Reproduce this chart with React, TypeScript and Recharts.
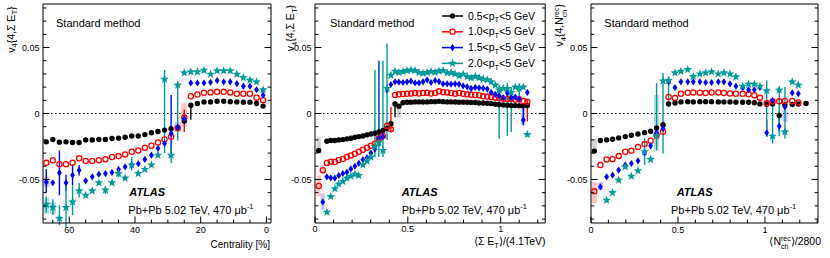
import React from "react";
import {
  ScatterChart,
  Scatter,
  XAxis,
  YAxis,
  ErrorBar,
  ReferenceLine,
  ReferenceArea,
} from "recharts";

const FONT = '"Liberation Sans", Arial, Helvetica, sans-serif';

// ── shared axis values ─────────────────────────────────────────
const yTicks = [-0.08, -0.07, -0.06, -0.05, -0.04, -0.03, -0.02, -0.01, 0, 0.01, 0.02, 0.03, 0.04, 0.05, 0.06, 0.07, 0.08];
const yMajor = [-0.05, 0, 0.05];
const ptLow = ["0.5", "1.0", "1.5", "2.0"];

// ── panel 1: centrality (%) ────────────────────────────────────
const centrality = [67, 65, 63, 61, 59, 57, 55, 53, 51, 49, 47, 45, 43, 41, 39, 37, 35, 33, 31, 29, 27, 25, 23, 21, 19, 17, 15, 13, 11, 9, 7, 5, 3, 1];
const p1Black = [-0.0215, -0.0197, -0.0217, -0.0215, -0.022, -0.022, -0.02, -0.02, -0.0197, -0.0197, -0.019, -0.0187, -0.018, -0.017, -0.017, -0.016, -0.0146, -0.0136, -0.0126, -0.0116, -0.0105, -0.0057, 0.0063, 0.0076, 0.0088, 0.0088, 0.0093, 0.0093, 0.009, 0.0088, 0.0086, 0.0086, 0.0076, 0.0056];
const p1Red = [-0.0374, -0.0354, -0.0384, -0.0384, -0.0374, -0.034, -0.036, -0.036, -0.0354, -0.0346, -0.033, -0.0323, -0.031, -0.029, -0.028, -0.026, -0.0245, -0.022, -0.0197, -0.0177, -0.011, -0.003, 0.0131, 0.0144, 0.0157, 0.016, 0.0164, 0.0164, 0.016, 0.015, 0.015, 0.015, 0.012, 0.0101];
const p1Blue = [-0.052, -0.0525, -0.045, -0.0525, -0.0467, -0.043, -0.051, -0.048, -0.046, -0.0455, -0.0447, -0.0424, -0.0404, -0.039, -0.038, -0.0348, -0.0316, -0.0265, -0.0227, -0.015, -0.0105, -0.004, 0.0232, 0.0232, 0.0232, 0.0237, 0.025, 0.024, 0.024, 0.0227, 0.0207, 0.0207, 0.018, 0.0139];
const p1Teal = [-0.069, -0.071, -0.0795, -0.0712, -0.067, -0.0586, -0.062, -0.0586, -0.0525, -0.058, -0.0525, -0.0455, -0.049, -0.039, -0.0455, -0.0424, -0.039, -0.0316, 0.026, -0.0316, 0.0215, 0.0308, 0.0316, 0.0316, 0.0328, 0.0298, 0.0323, 0.0323, 0.0323, 0.0298, 0.0273, 0.0253, 0.024, 0.018];
// errors keyed by point index: [down, up]
const p1BlackErr = { 22: [0.011, 0.0013] };
const p1RedErr = { 21: [0.011, 0.006] };
const p1BlueErr = { 0: [0.008, 0.01], 2: [0.017, 0.017], 3: [0.006, 0.006], 4: [0.008, 0.008], 5: [0.004, 0.004], 19: [0.014, 0.029] };
const p1TealErr = { 0: [0.006, 0.006], 1: [0.006, 0.006], 2: [0.005, 0.01], 3: [0.015, 0.02], 4: [0.01, 0.012], 5: [0.005, 0.006], 9: [0.003, 0.003], 11: [0.003, 0.004], 13: [0.004, 0.006], 18: [0.056, 0.007], 19: [0.006, 0.006], 20: [0.042, 0.002] };
// systematic boxes: [x, low, high]
const p1Boxes = [
  [],
  [[25, -0.01, 0.0076]],
  [[67, -0.0556, -0.048], [27, -0.014, -0.0064]],
  [[67, -0.076, -0.064], [65, -0.076, -0.067]],
];

// ── panel 2: <Sigma E_T>/(4.1 TeV) ─────────────────────────────
const sumEt = [0.02, 0.042, 0.064, 0.085, 0.107, 0.128, 0.15, 0.172, 0.193, 0.215, 0.236, 0.258, 0.28, 0.301, 0.323, 0.344, 0.366, 0.388, 0.409, 0.431, 0.452, 0.474, 0.496, 0.517, 0.539, 0.56, 0.582, 0.604, 0.625, 0.647, 0.668, 0.69, 0.712, 0.733, 0.755, 0.776, 0.798, 0.82, 0.841, 0.863, 0.884, 0.906, 0.928, 0.949, 0.971, 0.992, 1.014, 1.036, 1.057, 1.079, 1.1, 1.122, 1.144];
const p2Black = [-0.028, null, -0.021, -0.0205, -0.0205, -0.02, -0.0198, -0.0192, -0.0188, -0.018, -0.0175, -0.017, -0.0162, -0.0155, -0.015, -0.014, -0.0128, -0.0112, -0.0078, 0.0072, 0.0055, 0.0082, 0.0085, 0.0086, 0.0088, 0.0088, 0.0087, 0.0088, 0.009, 0.009, 0.0092, 0.009, 0.0088, 0.0088, 0.0087, 0.0086, 0.0086, 0.0085, 0.0084, 0.0083, 0.008, 0.008, 0.0078, 0.0075, 0.007, 0.0068, 0.0065, 0.0062, 0.006, 0.006, 0.0058, 0.0058, 0.006];
const p2Red = [-0.055, -0.043, -0.0375, -0.0365, -0.0368, -0.0352, -0.0345, -0.033, -0.0318, -0.0305, -0.029, -0.0275, -0.026, -0.0245, -0.023, -0.019, -0.017, -0.0095, -0.012, 0.014, 0.0145, 0.0148, 0.015, 0.0152, 0.0155, 0.0152, 0.0155, 0.0158, 0.0152, 0.0155, 0.0168, 0.0162, 0.016, 0.0155, 0.015, 0.0155, 0.015, 0.0145, 0.0142, 0.014, 0.0138, 0.013, 0.0128, 0.0125, 0.012, 0.0118, 0.0112, 0.011, 0.0112, 0.0105, 0.0108, 0.0095, 0.009];
const p2Blue = [null, -0.067, -0.048, -0.0488, -0.049, -0.047, -0.0455, -0.0445, -0.042, -0.04, -0.0378, -0.035, -0.0335, -0.03, -0.027, -0.019, -0.0175, 0.018, 0.022, 0.024, 0.0238, 0.0235, 0.024, 0.0245, 0.0232, 0.0232, 0.024, 0.0255, 0.0235, 0.025, 0.0242, 0.0225, 0.0225, 0.0222, 0.0225, 0.0222, 0.021, 0.0202, 0.019, 0.0198, 0.0195, 0.0192, 0.0185, 0.016, 0.0145, 0.0135, 0.012, 0.0155, 0.012, 0.0125, 0.011, -0.005, 0.016];
const p2Teal = [null, null, -0.0748, -0.063, -0.057, -0.0535, -0.0515, -0.049, -0.0475, -0.046, -0.047, -0.039, -0.036, -0.033, -0.025, -0.022, -0.028, 0.019, 0.029, 0.032, 0.031, 0.0318, 0.0325, 0.033, 0.0325, 0.031, 0.0305, 0.031, 0.0318, 0.0312, 0.0322, 0.0325, 0.0308, 0.031, 0.03, 0.0285, 0.0298, 0.028, 0.027, 0.0282, 0.027, 0.026, 0.0255, 0.024, 0.0215, 0.0178, 0.019, 0.019, 0.016, 0.02, 0.019, 0.02, -0.016];
const p2BlackErr = { 19: [0.01, 0.002] };
const p2RedErr = { 18: [0.002, 0.017], 52: [0.015, 0.002] };
const p2BlueErr = { 15: [0.006, 0.059], 51: [0.004, 0.012] };
const p2TealErr = { 14: [0.008, 0.058], 15: [0.011, 0.062], 16: [0.005, 0.068], 17: [0.039, 0.034], 45: [0.037, 0.004], 47: [0.036, 0.004], 48: [0.03, 0.004], 50: [0.012, 0.004] };
const p2Boxes = [
  [[0.02, -0.0295, -0.0177], [0.452, -0.003, 0.004]],
  [[0.02, -0.063, -0.047], [0.042, -0.0455, -0.039]],
  [[0.042, -0.073, -0.0606], [1.122, -0.009, 0.006]],
  [],
];

// ── panel 3: <N_ch^rec>/2800 ──────────────────────────────────
const nch = [0.019, 0.054, 0.09, 0.124, 0.159, 0.197, 0.232, 0.27, 0.308, 0.343, 0.377, 0.414, 0.446, 0.483, 0.517, 0.556, 0.588, 0.626, 0.659, 0.693, 0.732, 0.764, 0.799, 0.833, 0.872, 0.906, 0.939, 0.971, 1.01, 1.044, 1.082, 1.115, 1.157, 1.192, 1.236];
const p3Black = [-0.0285, -0.0205, -0.02, -0.0195, -0.0185, -0.0175, -0.0165, -0.0155, -0.0145, -0.0135, -0.011, -0.0085, 0.0072, 0.008, 0.0088, 0.009, 0.0088, 0.009, 0.009, 0.009, 0.0088, 0.0088, 0.0088, 0.0086, 0.0085, 0.0085, 0.0082, 0.0072, 0.007, 0.0072, -0.0015, 0.0065, 0.0068, 0.0072, 0.0076];
const p3Red = [-0.059, -0.039, -0.0348, -0.0346, -0.0323, -0.029, -0.0283, -0.0253, -0.0232, -0.0207, -0.0164, -0.0139, 0.0126, 0.0118, 0.015, 0.0157, 0.016, 0.0158, 0.0155, 0.016, 0.016, 0.0155, 0.0152, 0.015, 0.015, 0.0145, 0.0139, 0.012, 0.0078, 0.0092, 0.0092, 0.0095, 0.0095, 0.0083, null];
const p3Blue = [null, -0.0556, -0.048, -0.0467, -0.0429, -0.039, -0.0379, -0.0359, -0.0298, -0.0245, -0.0146, -0.0114, 0.024, 0.0197, 0.024, 0.024, 0.024, 0.024, 0.0235, 0.0235, 0.024, 0.024, 0.0225, 0.0207, 0.0195, 0.018, 0.018, 0.0197, -0.0146, 0.01, -0.0096, 0.005, 0.0157, 0.015, null];
const p3Teal = [null, null, -0.0657, -0.06, -0.0505, -0.0404, -0.0475, -0.0434, -0.029, -0.0348, -0.017, 0.0247, 0.025, 0.0308, 0.032, 0.0333, 0.028, 0.03, 0.0308, 0.0316, 0.03, 0.0308, 0.03, 0.0278, 0.0207, 0.0222, 0.0222, 0.0207, 0.0172, -0.0172, 0.0177, -0.0139, 0.024, 0.0215, null];
const p3BlackErr = { 30: [0.003, 0.003] };
const p3RedErr = {};
const p3BlueErr = { 28: [0.003, 0.01], 30: [0.004, 0.01] };
const p3TealErr = { 8: [0.01, 0.01], 10: [0.011, 0.04], 11: [0.055, 0.006], 12: [0.02, 0.003], 28: [0.035, 0.008], 29: [0.0055, 0.027], 30: [0.035, 0.003], 31: [0.005, 0.034] };
const p3Boxes = [
  [[0.019, -0.03, -0.019]],
  [[0.019, -0.068, -0.052]],
  [[0.054, -0.058, -0.052], [1.115, -0.0063, 0.0025]],
  [[0.377, -0.028, 0.014]],
];

// ── styling ───────────────────────────────────────────────────
const COLORS = ["#000000", "#ff0000", "#0000ff", "#009999"];
const BOX_COLORS = ["#b4b4b4", "#ff9c9c", "#a0a0ff", "#80caca"];
const Y_DOMAIN: [number, number] = [-0.083, 0.083];

function marker(i: number, cx: number, cy: number, legend = false) {
  if (cx == null || cy == null) return <g />;
  if (i === 0) return <circle cx={cx} cy={cy} r={2.7} fill="#000" />;
  if (i === 1)
    return <circle cx={cx} cy={cy} r={2.6} fill={legend ? "#fff" : "none"} stroke="#ff0000" strokeWidth={1.3} />;
  if (i === 2)
    return (
      <polygon
        points={`${cx},${cy - 3.6} ${cx + 2.4},${cy} ${cx},${cy + 3.6} ${cx - 2.4},${cy}`}
        fill="#0000ff"
      />
    );
  const pts: string[] = [];
  for (let k = 0; k < 10; k++) {
    const a = -Math.PI / 2 + (k * Math.PI) / 5;
    const r = k % 2 === 0 ? 4.6 : 1.9;
    pts.push(`${cx + r * Math.cos(a)},${cy + r * Math.sin(a)}`);
  }
  return <polygon points={pts.join(" ")} fill="#009999" />;
}

function points(xs: number[], ys: (number | null)[], errs: Record<number, number[]>) {
  const out: { x: number; y: number; err?: number[] }[] = [];
  xs.forEach((x, i) => {
    const y = ys[i];
    if (y == null) return;
    out.push(errs[i] ? { x, y, err: errs[i] } : { x, y });
  });
  return out;
}

const isMajor = (v: number, majors: number[]) => majors.some((m) => Math.abs(m - v) < 1e-9);

function LeftTick({ x, y, payload }: any) {
  const major = isMajor(payload.value, yMajor);
  return (
    <g>
      <line x1={x} x2={x + (major ? 6.5 : 3.3)} y1={y} y2={y} stroke="#000" />
      {major && (
        <text x={x - 3.5} y={y + 3.2} textAnchor="end" fontSize={9} fontFamily={FONT} fill="#000">
          {String(payload.value)}
        </text>
      )}
    </g>
  );
}

function RightTick({ x, y, payload }: any) {
  const major = isMajor(payload.value, yMajor);
  return <line x1={x} x2={x - (major ? 6.5 : 3.3)} y1={y} y2={y} stroke="#000" />;
}

function BottomTick({ x, y, payload, majors }: any) {
  const major = isMajor(payload.value, majors);
  return (
    <g>
      <line x1={x} x2={x} y1={y} y2={y - (major ? 6.5 : 3.3)} stroke="#000" />
      {major && (
        <text x={x} y={y + 9.5} textAnchor="middle" fontSize={9} fontFamily={FONT} fill="#000">
          {String(payload.value)}
        </text>
      )}
    </g>
  );
}

function TopTick({ x, y, payload, majors }: any) {
  const major = isMajor(payload.value, majors);
  return <line x1={x} x2={x} y1={y} y2={y + (major ? 6.5 : 3.3)} stroke="#000" />;
}

type PanelProps = {
  left: number;
  plotW: number;
  xs: number[];
  xDomain: [number, number];
  reversed?: boolean;
  xTicks: number[];
  xMajor: number[];
  values: (number | null)[][];
  errs: Record<number, number[]>[];
  boxes: number[][][];
  boxHalf: number;
};

function Panel(p: PanelProps) {
  const W = 45 + p.plotW + 1;
  return (
    <div style={{ position: "absolute", left: p.left - 45, top: 0 }}>
      <ScatterChart width={W} height={258} margin={{ top: 3, right: 0, bottom: 0, left: 0 }}>
        <XAxis
          type="number"
          dataKey="x"
          domain={p.xDomain}
          allowDataOverflow
          reversed={p.reversed}
          ticks={p.xTicks}
          interval={0}
          height={35}
          tickSize={0}
          tickMargin={0}
          tickLine={false}
          axisLine={{ stroke: "#000" }}
          tick={(t: any) => <BottomTick {...t} majors={p.xMajor} />}
        />
        <XAxis
          xAxisId="top"
          orientation="top"
          type="number"
          domain={p.xDomain}
          allowDataOverflow
          reversed={p.reversed}
          ticks={p.xTicks}
          interval={0}
          height={1}
          tickSize={0}
          tickMargin={0}
          tickLine={false}
          axisLine={{ stroke: "#000" }}
          tick={(t: any) => <TopTick {...t} majors={p.xMajor} />}
        />
        <YAxis
          type="number"
          dataKey="y"
          domain={Y_DOMAIN}
          allowDataOverflow
          ticks={yTicks}
          interval={0}
          width={45}
          tickSize={0}
          tickMargin={0}
          tickLine={false}
          axisLine={{ stroke: "#000" }}
          tick={(t: any) => <LeftTick {...t} />}
        />
        <YAxis
          yAxisId="right"
          orientation="right"
          type="number"
          domain={Y_DOMAIN}
          allowDataOverflow
          ticks={yTicks}
          interval={0}
          width={1}
          tickSize={0}
          tickMargin={0}
          tickLine={false}
          axisLine={{ stroke: "#000" }}
          tick={(t: any) => <RightTick {...t} />}
        />
        {p.boxes.map((list, s) =>
          list.map(([bx, lo, hi], k) => (
            <ReferenceArea
              key={`b${s}-${k}`}
              x1={bx - p.boxHalf}
              x2={bx + p.boxHalf}
              y1={lo}
              y2={hi}
              fill={BOX_COLORS[s]}
              fillOpacity={0.6}
              stroke="none"
              ifOverflow="hidden"
            />
          ))
        )}
        <ReferenceLine y={0} stroke="#000" strokeDasharray="1.5 2.5" strokeWidth={1} />
        {p.values.map((ys, s) => (
          <Scatter
            key={s}
            data={points(p.xs, ys, p.errs[s])}
            dataKey="y"
            isAnimationActive={false}
            shape={(d: any) => marker(s, d.cx, d.cy)}
          >
            <ErrorBar dataKey="err" direction="y" width={0} stroke={COLORS[s]} strokeWidth={1.4} isAnimationActive={false} />
          </Scatter>
        ))}
      </ScatterChart>
    </div>
  );
}

function YTitle({ x, y }: { x: number; y: number }) {
  return (
    <text transform={`translate(${x},${y}) rotate(-90)`} textAnchor="end" fontSize={10.5}>
      v<tspan dy={2.5} fontSize={7.5}>4</tspan>
      <tspan dy={-2.5}>{"{4,Σ E"}</tspan>
      <tspan dy={2.5} fontSize={7.5}>T</tspan>
      <tspan dy={-2.5}>{"}"}</tspan>
    </text>
  );
}

function Annotations({ std, atlas, pb }: { std: number; atlas: number; pb: number }) {
  return (
    <g>
      <text x={std} y={27} fontSize={11}>Standard method</text>
      <text x={atlas} y={196} fontSize={11} fontWeight="bold" fontStyle="italic">ATLAS</text>
      <text x={pb} y={213.5} fontSize={11}>
        Pb+Pb 5.02 TeV, 470 μb<tspan dy={-4.5} fontSize={7.5}>-1</tspan>
      </text>
    </g>
  );
}

export default function App() {
  return (
    <div style={{ position: "absolute", left: 0, top: 0, width: 830, height: 258, background: "#fff", fontFamily: FONT }}>
      <Panel
        left={43}
        plotW={228}
        xs={centrality}
        xDomain={[-1.4, 68]}
        reversed
        xTicks={[0, 5, 10, 15, 20, 25, 30, 35, 40, 45, 50, 55, 60, 65]}
        xMajor={[0, 20, 40, 60]}
        values={[p1Black, p1Red, p1Blue, p1Teal]}
        errs={[p1BlackErr, p1RedErr, p1BlueErr, p1TealErr]}
        boxes={p1Boxes}
        boxHalf={0.9}
      />
      <Panel
        left={315.3}
        plotW={230.2}
        xs={sumEt}
        xDomain={[0, 1.24]}
        xTicks={[0, 0.1, 0.2, 0.3, 0.4, 0.5, 0.6, 0.7, 0.8, 0.9, 1, 1.1, 1.2]}
        xMajor={[0, 0.5, 1]}
        values={[p2Black, p2Red, p2Blue, p2Teal]}
        errs={[p2BlackErr, p2RedErr, p2BlueErr, p2TealErr]}
        boxes={p2Boxes}
        boxHalf={0.011}
      />
      <Panel
        left={591}
        plotW={227}
        xs={nch}
        xDomain={[0, 1.305]}
        xTicks={[0, 0.1, 0.2, 0.3, 0.4, 0.5, 0.6, 0.7, 0.8, 0.9, 1, 1.1, 1.2, 1.3]}
        xMajor={[0, 0.5, 1]}
        values={[p3Black, p3Red, p3Blue, p3Teal]}
        errs={[p3BlackErr, p3RedErr, p3BlueErr, p3TealErr]}
        boxes={p3Boxes}
        boxHalf={0.015}
      />
      <svg
        width={830}
        height={258}
        style={{ position: "absolute", left: 0, top: 0, pointerEvents: "none" }}
        fontFamily={FONT}
        fill="#000"
      >
        <YTitle x={14.5} y={6.5} />
        <YTitle x={294} y={5} />
        <text transform="translate(563,4) rotate(-90)" textAnchor="end" fontSize={10.5}>
          v<tspan dy={2.5} fontSize={7.5}>4</tspan>
          <tspan dy={-2.5}>{"{4,N"}</tspan>
          <tspan dy={-4} fontSize={7}>rec</tspan>
          <tspan dx={-9.7} dy={7.5} fontSize={7}>ch</tspan>
          <tspan dx={2.3} dy={-3.5}>{"}"}</tspan>
        </text>

        <Annotations std={56} atlas={129.3} pb={128.3} />
        <Annotations std={330} atlas={401.7} pb={401.7} />
        <Annotations std={604.3} atlas={676.7} pb={671} />

        <text x={270} y={248} textAnchor="end" fontSize={10}>Centrality [%]</text>
        <text x={545.5} y={245} textAnchor="end" fontSize={10.5}>
          ⟨Σ E<tspan dy={2.5} fontSize={7.5}>T</tspan>
          <tspan dy={-2.5}>⟩/(4.1TeV)</tspan>
        </text>
        <text x={821} y={245} textAnchor="end" fontSize={10.5}>
          ⟨N<tspan dy={-4} fontSize={7}>rec</tspan>
          <tspan dx={-9.7} dy={7.5} fontSize={7}>ch</tspan>
          <tspan dx={2.3} dy={-3.5}>⟩/2800</tspan>
        </text>

        {ptLow.map((lo, i) => {
          const cy = 16 + i * 15.8;
          return (
            <g key={lo}>
              <line x1={442} x2={463} y1={cy} y2={cy} stroke={COLORS[i]} strokeWidth={1.5} />
              {marker(i, 452.5, cy, true)}
              <text x={468} y={cy + 3.6} fontSize={10.5}>
                {lo + "<p"}
                <tspan dy={2.5} fontSize={7.5}>T</tspan>
                <tspan dy={-2.5}>{"<5 GeV"}</tspan>
              </text>
            </g>
          );
        })}
      </svg>
    </div>
  );
}
